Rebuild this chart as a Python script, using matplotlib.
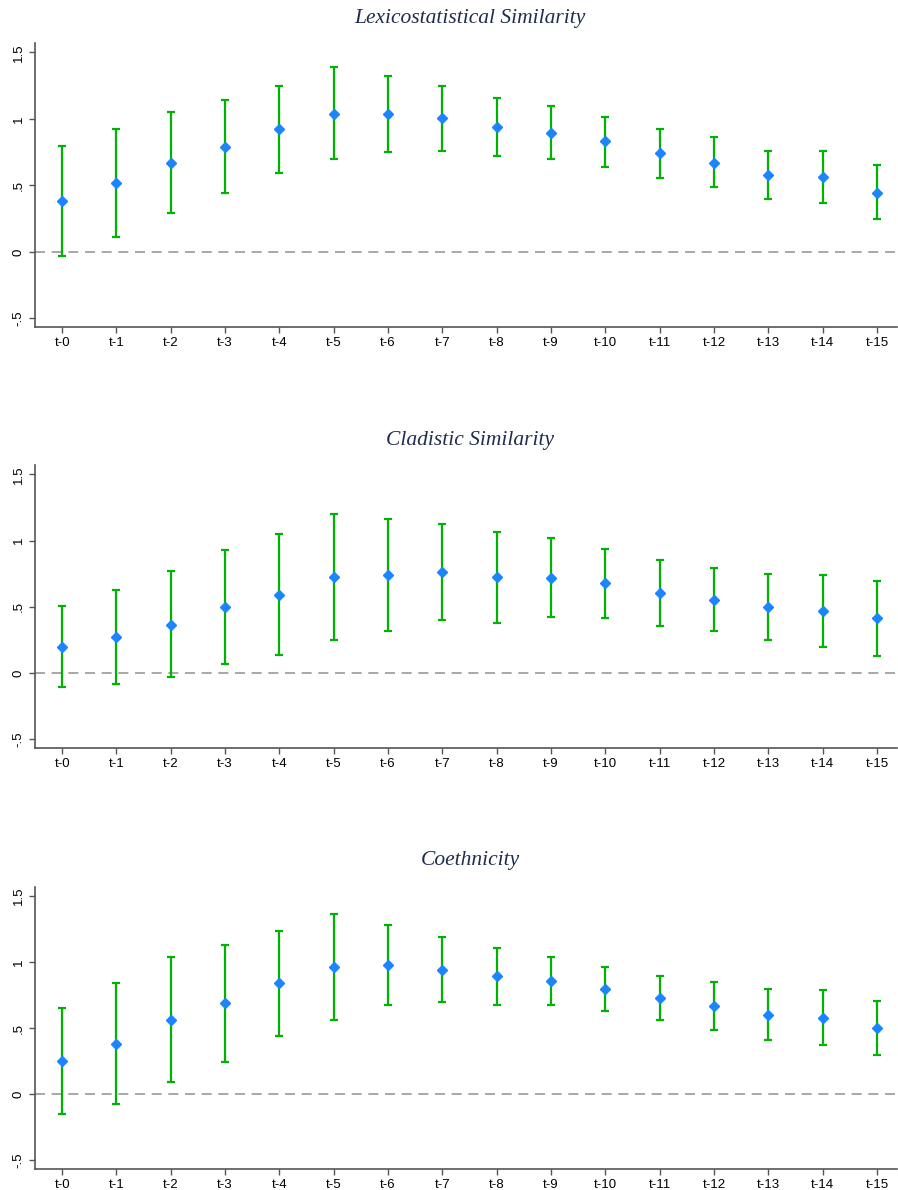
import numpy as np
import matplotlib.pyplot as plt

labels = ["t-%d" % i for i in range(16)]

titles = ["Lexicostatistical Similarity", "Cladistic Similarity", "Coethnicity"]

# point estimates and 95% bounds
lex_est = [0.38, 0.52, 0.67, 0.79, 0.92, 1.04, 1.035, 1.005, 0.94, 0.895, 0.83, 0.74, 0.67, 0.575, 0.56, 0.445]
lex_hi = [0.795, 0.92, 1.05, 1.145, 1.25, 1.39, 1.32, 1.245, 1.16, 1.095, 1.015, 0.92, 0.86, 0.755, 0.755, 0.65]
lex_lo = [-0.035, 0.11, 0.295, 0.44, 0.595, 0.695, 0.75, 0.76, 0.72, 0.695, 0.64, 0.555, 0.49, 0.395, 0.365, 0.245]

cla_est = [0.20, 0.27, 0.365, 0.495, 0.59, 0.727, 0.742, 0.762, 0.722, 0.719, 0.677, 0.604, 0.551, 0.499, 0.469, 0.414]
cla_hi = [0.51, 0.624, 0.767, 0.927, 1.05, 1.203, 1.165, 1.125, 1.063, 1.018, 0.935, 0.852, 0.792, 0.744, 0.742, 0.694]
cla_lo = [-0.103, -0.083, -0.03, 0.07, 0.133, 0.253, 0.321, 0.398, 0.378, 0.421, 0.416, 0.353, 0.316, 0.253, 0.195, 0.13]

coe_est = [0.255, 0.385, 0.565, 0.69, 0.84, 0.963, 0.98, 0.945, 0.895, 0.858, 0.798, 0.728, 0.668, 0.603, 0.578, 0.50]
coe_hi = [0.655, 0.843, 1.043, 1.133, 1.238, 1.365, 1.283, 1.195, 1.11, 1.04, 0.963, 0.893, 0.848, 0.798, 0.788, 0.708]
coe_lo = [-0.148, -0.073, 0.093, 0.248, 0.443, 0.563, 0.678, 0.698, 0.678, 0.678, 0.628, 0.56, 0.485, 0.408, 0.373, 0.295]

series = [(lex_est, lex_lo, lex_hi), (cla_est, cla_lo, cla_hi), (coe_est, coe_lo, coe_hi)]

W, H = 898, 1190
fig = plt.figure(figsize=(W / 100, H / 100), dpi=100)

# axes boxes in pixels: left, top, right, bottom
boxes = [(35, 43, 897, 327), (35, 465, 897, 748), (35, 887, 897, 1169)]
title_y = [19, 440, 861]

x = np.arange(len(labels))
for (est, lo, hi), box, title, ty in zip(series, boxes, titles, title_y):
    l, t, r, b = box
    ax = fig.add_axes([l / W, 1 - b / H, (r - l) / W, (b - t) / H])
    est = np.array(est)
    err = [est - np.array(lo), np.array(hi) - est]
    ax.axhline(0, color="#999999", lw=1.2, ls=(0, (6, 4)), zorder=1)
    ax.errorbar(x, est, yerr=err, fmt="none", ecolor="#00b300", elinewidth=1.6,
                capsize=3.2, capthick=1.6, zorder=2)
    ax.plot(x, est, "D", color="#1a85ff", ms=5.5, mec="#1a85ff", zorder=3)
    ax.set_xlim(-0.5, 15.37)
    ax.set_ylim(-0.565, 1.57)
    ax.set_xticks(x)
    ax.set_xticklabels(labels, fontsize=9.5, family="Liberation Sans")
    ax.set_yticks([-0.5, 0, 0.5, 1, 1.5])
    ax.set_yticklabels(["-.5", "0", ".5", "1", "1.5"], fontsize=9.5,
                       family="Liberation Sans", rotation=90, va="center")
    for s in ["top", "right"]:
        ax.spines[s].set_visible(False)
    for s in ["left", "bottom"]:
        ax.spines[s].set_color("#555555")
        ax.spines[s].set_linewidth(1.2)
    ax.tick_params(colors="#555555", labelcolor="black", length=4, width=1)
    fig.text(470 / W, 1 - ty / H, title, ha="center", va="center", fontsize=15.5,
             family="Liberation Serif", style="italic", color="#1f2d4f")

fig.savefig("out.png", dpi=100)
